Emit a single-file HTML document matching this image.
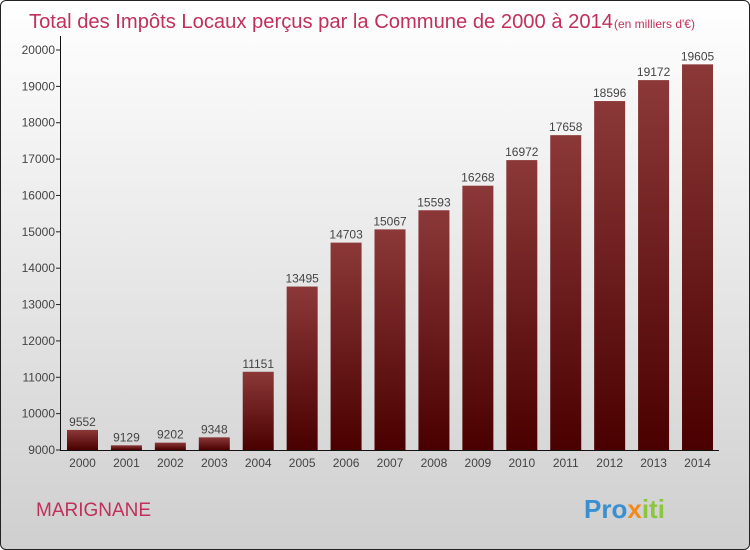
<!DOCTYPE html>
<html><head><meta charset="utf-8"><style>
body{margin:0}
#wrap{position:relative;width:748px;height:548px;border:1px solid #222;border-radius:6px;background:linear-gradient(#ffffff,#cfcfcf);overflow:hidden;font-family:"Liberation Sans",sans-serif}
</style></head><body>
<div id="wrap">
<svg id="chart" width="748" height="548">
<defs><linearGradient id="bg" x1="0" y1="0" x2="0" y2="1"><stop offset="0" stop-color="#8c3838"/><stop offset="1" stop-color="#4a0000"/></linearGradient></defs>
<text x="28" y="27" font-size="20" textLength="584" lengthAdjust="spacingAndGlyphs" fill="#c0305a">Total des Impôts Locaux perçus par la Commune de 2000 à 2014</text>
<text x="613" y="27" font-size="12" fill="#c0305a">(en milliers d'€)</text>
<text x="35" y="515" font-size="19" fill="#c0305a">MARIGNANE</text>
<text x="583" y="517" font-size="26" font-weight="bold"><tspan fill="#3a8fd0">Pro</tspan><tspan fill="#f08a1c">x</tspan><tspan fill="#8cc63f">iti</tspan></text>
<g id="g"></g>
</svg>
</div>
<script>
const years=["2000","2001","2002","2003","2004","2005","2006","2007","2008","2009","2010","2011","2012","2013","2014"];
const values=[9552,9129,9202,9348,11151,13495,14703,15067,15593,16268,16972,17658,18596,19172,19605];
const ticks=[9000,10000,11000,12000,13000,14000,15000,16000,17000,18000,19000,20000];
const NS="http://www.w3.org/2000/svg",g=document.getElementById('g');
const y=v=>449-(v-9000)*(400/11000);
const x=i=>81.5+i*43.93;
function mk(t,a,txt){const e=document.createElementNS(NS,t);for(const k in a)e.setAttribute(k,a[k]);if(txt!=null)e.textContent=txt;g.appendChild(e);return e;}
ticks.forEach(t=>{
 const l=mk('line',{x1:55,x2:59,y1:y(t),y2:y(t),stroke:'#222'});
 
 
 const tx=mk('text',{x:54,y:y(t)+4,'font-size':12,'text-anchor':'end',fill:'#444'},t);
 
 
});
values.forEach((v,i)=>{
 const r=mk('rect',{x:x(i)-15.5,y:y(v),width:31,height:449-y(v),fill:'url(#bg)'});
 
 
 const vl=mk('text',{x:x(i),y:y(v)-4,'font-size':12,'text-anchor':'middle',fill:'#444'},v);
 
 
 const xl=mk('text',{x:x(i),y:466,'font-size':12,'text-anchor':'middle',fill:'#444'},years[i]);
 
 
});
const ax=mk('path',{d:'M59.5 35V449.5H718',stroke:'#111',fill:'none'});


</script>
</body></html>
